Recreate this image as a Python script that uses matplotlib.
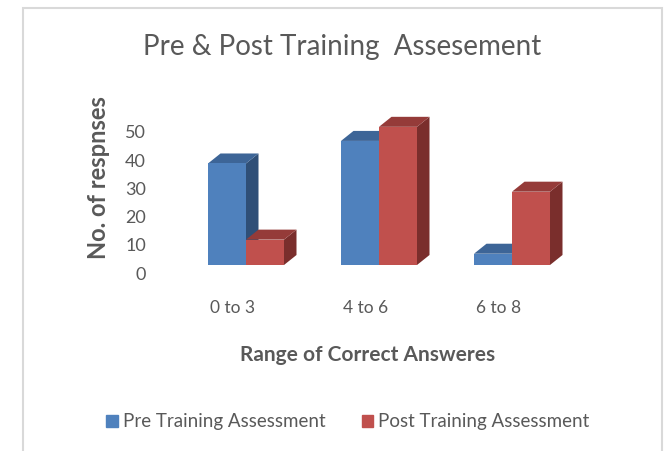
import matplotlib.pyplot as plt
from matplotlib.patches import Polygon, Rectangle
from matplotlib.transforms import ScaledTranslation
import numpy as np

plt.rcParams['font.family'] = ['Lato', 'DejaVu Sans']

categories = ['0 to 3', '4 to 6', '6 to 8']
pre_training = [36, 44, 4]
post_training = [9, 49, 26]
series_names = ['Pre Training Assessment', 'Post Training Assessment']
yticks = [0, 10, 20, 30, 40, 50]

# face, top, side colours for the fake 3D look
blue = ('#4f81bd', '#3d6597', '#2f4f77')
red = ('#c0504d', '#953b39', '#7a2e2c')
grey = '#595959'

W, H = 671, 451
fig = plt.figure(figsize=(W / 100, H / 100), dpi=100)

# light frame around the chart area
fig.patches.append(Rectangle((23 / W, -0.02), (662 - 23) / W, (H - 8) / H + 0.02,
                             transform=fig.transFigure, fill=False,
                             edgecolor='#d9d9d9', linewidth=1.5))

# axes placed so that y=0 lands at px 265 and 1 unit ~ 2.82 px
ax_left, ax_right = 150, 620
ax_bottom, ax_top = 265, 265 - 60 * 2.82
ax = fig.add_axes([ax_left / W, (H - ax_bottom) / H,
                   (ax_right - ax_left) / W, (ax_bottom - ax_top) / H])
px_per_cat = 133
ax.set_xlim((ax_left - 246) / px_per_cat, (ax_right - 246) / px_per_cat)
ax.set_ylim(0, 60)

x = np.arange(len(categories))
w = 38 / px_per_cat
dx = 12.5 / px_per_cat
dy = 10 / 2.82


def bar3d(x0, h, cols):
    face, top, side = cols
    ax.add_patch(Polygon([(x0 + w, 0), (x0 + w + dx, dy), (x0 + w + dx, h + dy), (x0 + w, h)],
                         closed=True, facecolor=side, edgecolor='none'))
    ax.add_patch(Polygon([(x0, h), (x0 + w, h), (x0 + w + dx, h + dy), (x0 + dx, h + dy)],
                         closed=True, facecolor=top, edgecolor='none'))
    ax.bar(x0, h, width=w, align='edge', color=face, linewidth=0)


for i in range(len(categories)):
    bar3d(x[i] - w, pre_training[i], blue)
    bar3d(x[i], post_training[i], red)

for s in ax.spines.values():
    s.set_visible(False)
ax.tick_params(length=0, colors=grey)

ax.set_yticks(yticks)
ax.set_yticklabels([str(t) for t in yticks], fontsize=13, color=grey)
ax.tick_params(axis='y', pad=3)
for lab in ax.get_yticklabels():
    lab.set_transform(lab.get_transform() + ScaledTranslation(0, -8 / 100, fig.dpi_scale_trans))

ax.set_xticks(x)
ax.set_xticklabels(categories, fontsize=12.5, color=grey)
ax.tick_params(axis='x', pad=25)
for lab in ax.get_xticklabels():
    lab.set_transform(lab.get_transform() + ScaledTranslation(-13 / 100, 0, fig.dpi_scale_trans))

fig.text(342 / W, 1 - 47 / H, 'Pre & Post Training  Assesement', fontsize=20,
         color=grey, ha='center', va='center')
fig.text(98 / W, 1 - 178 / H, 'No. of respnses', fontsize=17, fontweight='bold',
         color=grey, rotation=90, ha='center', va='center')
fig.text(368 / W, 1 - 355 / H, 'Range of Correct Answeres', fontsize=15,
         fontweight='bold', color=grey, ha='center', va='center')

handles = [Rectangle((0, 0), 1, 1, color=blue[0]), Rectangle((0, 0), 1, 1, color=red[0])]
fig.legend(handles, series_names, loc='center', bbox_to_anchor=(348 / W, 1 - 422 / H),
           ncol=2, frameon=False, fontsize=13.5, labelcolor=grey,
           handlelength=0.6, handleheight=0.6, handletextpad=0.3, columnspacing=1.9)

fig.savefig('out.png', dpi=100)
